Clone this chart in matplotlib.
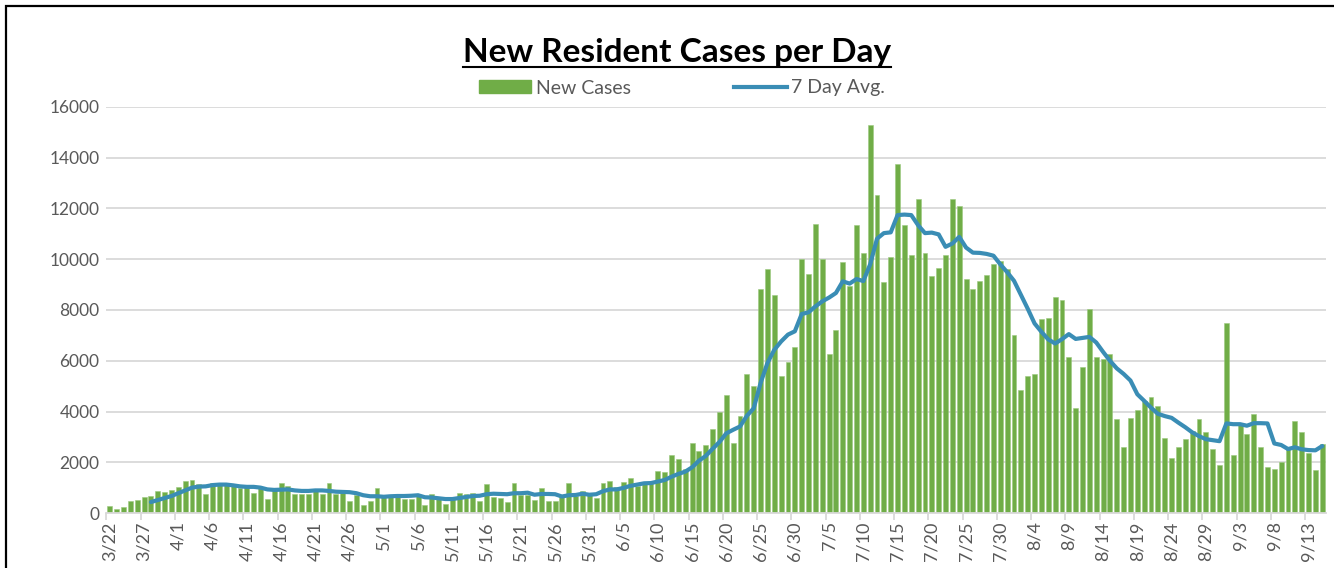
import numpy as np
import pandas as pd
import matplotlib
matplotlib.use('Agg')
import matplotlib.pyplot as plt
from matplotlib.patches import Patch, Rectangle
from matplotlib.lines import Line2D

# Daily new resident cases, 3/22 .. 9/15
new_cases = [
    # March 22-31
    260, 150, 240, 460, 510, 630, 680, 870, 830, 900,
    # April
    1010, 1260, 1290, 1160, 760, 1170, 1090, 1100, 1060, 1000,
    1010, 790, 970, 570, 930, 1180, 1070, 760, 730, 750,
    880, 740, 1190, 750, 800, 490, 710, 300, 490, 970,
    # May
    670, 620, 740, 550, 550, 710, 320, 760, 550, 360,
    550, 780, 750, 780, 460, 1130, 630, 590, 450, 1200,
    700, 710, 530, 970, 490, 460, 620, 1200, 680, 860, 700,
    # June
    580, 1200, 1260, 1010, 1220, 1390, 1070, 1230, 1210, 1660,
    1630, 2290, 2120, 1720, 2750, 2450, 2670, 3300, 3990, 4660,
    2750, 3840, 5470, 5010, 8840, 9630, 8580, 5410, 5970, 6540,
    # July
    10010, 9420, 11380, 10000, 6280, 7200, 9890, 8950, 11340, 10250,
    15280, 12520, 9090, 10080, 13740, 11340, 10170, 12390, 10260, 9330,
    9650, 10150, 12360, 12100, 9240, 8830, 9150, 9370, 9830, 9920, 9630,
    # August
    7010, 4830, 5380, 5460, 7640, 7680, 8520, 8390, 6160, 4150,
    5740, 8020, 6160, 6080, 6250, 3700, 2600, 3750, 4040, 4420,
    4590, 4230, 2960, 2180, 2620, 2900, 3230, 3690, 3180, 2510, 1880,
    # September 1-15
    7470, 2270, 3450, 3120, 3910, 2590, 1800, 1750, 2020, 2510,
    3610, 3180, 2380, 1690, 2700,
]

# 7 day average, starts on 3/28
avg_start = 6
avg7 = [
    # March 28-31
    430, 510, 590, 670,
    # April
    780, 890, 1000, 1040, 1050, 1100, 1120, 1120, 1090, 1050,
    1030, 1030, 1000, 930, 910, 920, 930, 890, 870, 870,
    890, 890, 870, 840, 830, 820, 780, 700, 660, 660,
    # May
    640, 660, 670, 670, 680, 700, 620, 610, 580, 550,
    550, 590, 630, 670, 680, 740, 760, 750, 740, 780,
    780, 800, 720, 750, 750, 740, 650, 700, 710, 760, 720,
    # June
    740, 860, 930, 930, 990, 1070, 1120, 1170, 1180, 1240,
    1300, 1430, 1540, 1630, 1800, 2060, 2250, 2530, 2800, 3140,
    3280, 3410, 3830, 4130, 5120, 5910, 6430, 6760, 7030, 7160,
    # July
    7840, 7910, 8140, 8340, 8490, 8670, 9130, 9040, 9220, 9140,
    9800, 10810, 11030, 11060, 11740, 11760, 11740, 11340, 11030, 11050,
    10980, 10490, 10620, 10880, 10460, 10260, 10250, 10210, 10140, 9800, 9490,
    # August
    9150, 8600, 8050, 7470, 7140, 6840, 6680, 6850, 7050, 6860,
    6900, 6940, 6720, 6350, 6000, 5700, 5480, 5220, 4680, 4420,
    4150, 3910, 3820, 3750, 3560, 3380, 3180, 3030, 2910, 2870, 2830,
    # September
    3530, 3500, 3500, 3440, 3540, 3540, 3530, 2740, 2680, 2520,
    2590, 2510, 2480, 2470, 2640,
]

dates = pd.date_range('2020-03-22', periods=len(new_cases), freq='D')
date_labels = [f'{d.month}/{d.day}' for d in dates]

GREEN = '#70AD47'
BLUE = '#3A8DB5'
GREY = '#595959'
GRID = '#D9D9D9'

plt.rcParams['font.family'] = ['Lato', 'DejaVu Sans']

W, H = 1334, 568
fig = plt.figure(figsize=(W / 100, H / 100), dpi=100)
ax = fig.add_axes([106.4 / W, 55 / H, (1325.7 - 106.4) / W, 406 / H])

x = np.arange(len(new_cases))
ax.bar(x, new_cases, width=0.72, color=GREEN, edgecolor='#9CC97F', linewidth=0.4, zorder=2)
ax.plot(x[avg_start:avg_start + len(avg7)], avg7, color=BLUE, lw=3, zorder=3,
        solid_joinstyle='round', solid_capstyle='round')

ax.set_xlim(-0.5, len(new_cases) - 0.5)
ax.set_ylim(0, 16000)
ax.set_yticks(range(0, 16001, 2000))
ax.yaxis.grid(True, color=GRID, lw=1.3, zorder=0)
ax.set_axisbelow(True)
for s in ['top', 'right', 'left']:
    ax.spines[s].set_visible(False)
ax.spines['bottom'].set_color(GRID)
ax.spines['bottom'].set_linewidth(1.3)
ax.tick_params(axis='y', length=0, labelsize=12.5, colors=GREY, pad=5)

ax.set_xticks(x[::5])
ax.set_xticklabels(date_labels[::5], rotation=90)
ax.set_xticks(x[::5] - 0.5, minor=True)
ax.tick_params(axis='x', which='major', length=0, labelsize=13, colors=GREY, pad=6)
ax.tick_params(axis='x', which='minor', length=5, width=1.3, color=GRID)

# title with underline
title = fig.text(677 / W, 1 - 62 / H, 'New Resident Cases per Day', ha='center', va='baseline',
                 fontsize=24, fontweight='bold', color='black')
fig.canvas.draw()
bb = title.get_window_extent(fig.canvas.get_renderer())
fig.add_artist(Line2D([bb.x0 / W, bb.x1 / W], [1 - 67 / H, 1 - 67 / H],
                      transform=fig.transFigure, color='black', lw=1.5))

handles = [Patch(facecolor=GREEN, edgecolor=GREEN), Line2D([], [], color=BLUE, lw=3)]
fig.legend(handles, ['New Cases', '7 Day Avg.'], loc='center', bbox_to_anchor=(682 / W, 1 - 88 / H),
           ncol=2, frameon=False, fontsize=14, labelcolor=GREY, handlelength=2.7,
           handleheight=0.65, handletextpad=0.25, columnspacing=5.3)

# outer chart border (clipped at right and bottom in the reference)
fig.add_artist(Rectangle((5.5 / W, -0.5), 2, 1.5 - 5.5 / H, transform=fig.transFigure,
                         fill=False, ec='black', lw=1.6))

fig.savefig('out.png', dpi=100)
